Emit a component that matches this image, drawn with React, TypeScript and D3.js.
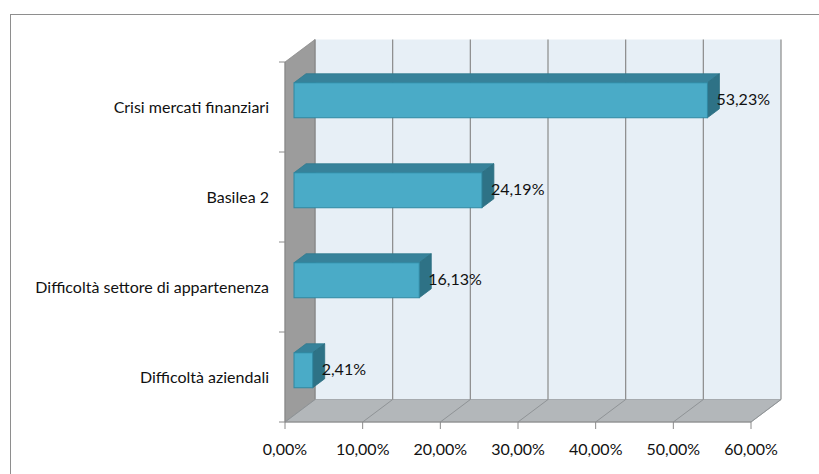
import React from "react";
import * as d3 from "d3";

const categories = [
  "Crisi mercati finanziari",
  "Basilea 2",
  "Difficoltà settore di appartenenza",
  "Difficoltà aziendali",
];
const values = [53.23, 24.19, 16.13, 2.41];
const tickValues = [0, 10, 20, 30, 40, 50, 60];

const fmt = (v: number) => v.toFixed(2).replace(".", ",") + "%";

const W = 819;
const H = 474;
const X0 = 285;
const X1 = 751;
const YT = 62;
const YB = 422;
const DX = 30;
const DY = -22.5;
const F1 = 0.3;
const F2 = 0.7;
const BAR_H = 35;
const FONT = "Lato, 'Open Sans', sans-serif";

export default function App() {
  const x = d3.scaleLinear().domain([0, 60]).range([X0, X1]);
  const y = d3.scaleBand<string>().domain(categories).range([YT, YB]);
  const bw = y.bandwidth();

  const backWall = `${X0 + DX},${YT + DY} ${X1 + DX},${YT + DY} ${X1 + DX},${YB + DY} ${X0 + DX},${YB + DY}`;
  const leftWall = `${X0},${YT} ${X0 + DX},${YT + DY} ${X0 + DX},${YB + DY} ${X0},${YB}`;
  const floor = `${X0},${YB} ${X0 + DX},${YB + DY} ${X1 + DX},${YB + DY} ${X1},${YB}`;

  return (
    <svg
      width={W}
      height={H}
      style={{ position: "absolute", left: 0, top: 0, background: "#fff" }}
      fontFamily={FONT}
    >
      <rect x={10.5} y={14.5} width={W + 10} height={H + 10} fill="#fff" stroke="#8e8e8e" strokeWidth={1} />
      <polygon points={backWall} fill="#e7eff6" />
      <polygon points={leftWall} fill="#9c9c9c" stroke="#8a8a8a" strokeWidth={0.8} />
      <polygon points={floor} fill="#b3b7ba" stroke="#9a9ea2" strokeWidth={0.8} />
      {tickValues.map((t) => (
        <g key={"g" + t}>
          <line x1={x(t) + DX} x2={x(t) + DX} y1={YT + DY} y2={YB + DY} stroke="#8a8a8a" strokeWidth={1.2} />
          <line x1={x(t)} x2={x(t) + DX} y1={YB} y2={YB + DY} stroke="#8f9396" strokeWidth={1} />
        </g>
      ))}
      {/* axes */}
      <line x1={X0} x2={X1} y1={YB} y2={YB} stroke="#8a8a8a" strokeWidth={1} />
      <line x1={X0} x2={X0} y1={YT} y2={YB} stroke="#8a8a8a" strokeWidth={1} />
      {tickValues.map((t) => (
        <g key={"t" + t}>
          <line x1={x(t)} x2={x(t)} y1={YB} y2={YB + 7} stroke="#8a8a8a" />
          <text x={x(t)} y={451} textAnchor="middle" dominantBaseline="middle" fontSize={16} fill="#111">
            {fmt(t)}
          </text>
        </g>
      ))}
      {[0, 1, 2, 3, 4].map((i) => (
        <line key={"yt" + i} x1={X0 - 6} x2={X0} y1={YT + i * bw} y2={YT + i * bw} stroke="#8a8a8a" />
      ))}
      {categories.map((c, i) => {
        const yc = (y(c) as number) + bw / 2;
        return (
          <text key={"c" + i} x={269} y={yc + 2} textAnchor="end" dominantBaseline="middle" fontSize={16} fill="#111">
            {c}
          </text>
        );
      })}
      {categories.map((c, i) => {
        const v = values[i];
        const yc = (y(c) as number) + bw / 2;
        const top = yc - BAR_H / 2;
        const bot = yc + BAR_H / 2;
        const xa = x(0);
        const xb = x(v);
        const front = { x: xa + F1 * DX, y: top + F1 * DY, w: xb - xa, h: BAR_H };
        const topFace = `${xa + F1 * DX},${top + F1 * DY} ${xb + F1 * DX},${top + F1 * DY} ${xb + F2 * DX},${top + F2 * DY} ${xa + F2 * DX},${top + F2 * DY}`;
        const side = `${xb + F1 * DX},${top + F1 * DY} ${xb + F2 * DX},${top + F2 * DY} ${xb + F2 * DX},${bot + F2 * DY} ${xb + F1 * DX},${bot + F1 * DY}`;
        return (
          <g key={"b" + i}>
            <polygon points={topFace} fill="#37829a" stroke="#2f7a8e" strokeWidth={0.8} />
            <polygon points={side} fill="#2e7286" stroke="#2a6d80" strokeWidth={0.8} />
            <rect x={front.x} y={front.y} width={front.w} height={front.h} fill="#4aabc7" stroke="#2f88a2" strokeWidth={1} />
            <text x={xb + F1 * DX + 9} y={yc + F1 * DY + 1} dominantBaseline="middle" fontSize={16} fill="#111">
              {fmt(v)}
            </text>
          </g>
        );
      })}
    </svg>
  );
}
